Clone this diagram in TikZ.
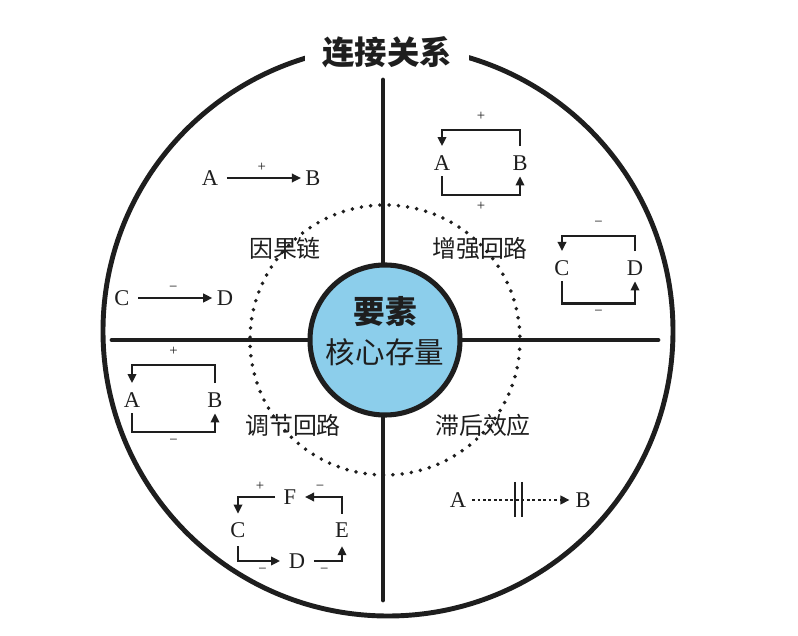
\documentclass[tikz,border=0pt]{standalone}
\usepackage{fontspec}
\setmainfont{Liberation Serif}
\newfontfamily\cjk{Noto Sans CJK SC}
\usetikzlibrary{arrows.meta}
\definecolor{ink}{RGB}{30,30,30}
\definecolor{coreblue}{RGB}{140,206,235}
\tikzset{
  every picture/.style={color=ink},
  ring/.style={draw=ink, line width=3.5pt},
  axis/.style={draw=ink, line width=3.5pt, line cap=round},
  dotring/.style={draw=ink, line width=2.8pt, line cap=round, dash pattern=on 0pt off 6.6pt},
  core/.style={circle, draw=ink, line width=3.6pt, fill=coreblue, minimum size=3.75cm, inner sep=0pt},
  title/.style={font=\cjk\bfseries\fontsize{23}{26}\selectfont, fill=white, inner xsep=12pt, inner ysep=4pt},
  key/.style={font=\cjk\bfseries\fontsize{22.5}{26}\selectfont, inner sep=1pt},
  sub/.style={font=\cjk\fontsize{21}{24}\selectfont, inner sep=1pt},
  quad/.style={font=\cjk\fontsize{17}{20}\selectfont, inner sep=1pt},
  var/.style={font=\fontsize{16}{18}\selectfont, inner sep=1pt},
  sign/.style={font=\fontsize{10.5}{11}\selectfont, inner sep=0pt},
  link/.style={-{Triangle[length=6.5pt,width=6pt]}, line width=1.9pt},
  chain/.style={link, shorten <=5pt, shorten >=2pt},
  upper/.style={link, shorten <=5.5pt, shorten >=5.5pt},
  lower/.style={link, shorten <=3pt, shorten >=3pt},
  loopfour/.style={link, shorten <=5pt, shorten >=5pt},
  lag/.style={link, dotted, line width=1.6pt, shorten <=3pt, shorten >=3pt},
}

\begin{document}
\begin{tikzpicture}[x=0.025cm, y=-0.025cm]
  \useasboundingbox (0,0) rectangle (798,636);
  \coordinate (o) at (385,340);
  \coordinate (rc) at (388,331);
  \draw[ring] (rc) circle (285);
  \node[title] (t) at (387,52) {连接关系};
  \draw[dotring] (o) circle (135);
  \coordinate (n) at (383,80);
  \coordinate (s) at (383,600);
  \coordinate (w) at (112,340);
  \coordinate (e) at (658,340);
  \draw[axis] (n) -- (s);
  \draw[axis] (w) -- (e);
  \node[core] (k) at (o) {};
  \node[key] (ys) at (385,312) {要素};
  \node[sub] (hx) at (385,352) {核心存量};
  \node[quad] (q1) at (285,248) {因果链};
  \node[quad] (q2) at (480,248) {增强回路};
  \node[quad] (q3) at (293,425) {调节回路};
  \node[quad] (q4) at (483,425) {滞后效应};

  \node[var] (a1) at (210,178) {A};
  \node[var] (b1) at (313,178) {B};
  \draw[chain] (a1) -- node[sign, above=4pt] {+} (b1);
  \node[var] (c1) at (122,298) {C};
  \node[var] (d1) at (225,298) {D};
  \draw[chain] (c1) -- node[sign, above=4pt] {−} (d1);

  \node[var] (a2) at (442,163) {A};
  \node[var] (b2) at (520,163) {B};
  \draw[upper] (b2.north) -- ++(0,-24) -| node[sign, pos=0.25, above=6pt] {+} (a2.north);
  \draw[lower] (a2.south) -- ++(0,23) -| node[sign, pos=0.25, below=4pt] {+} (b2.south);

  \node[var] (c2) at (562,268) {C};
  \node[var] (d2) at (635,268) {D};
  \draw[upper] (d2.north) -- ++(0,-23) -| node[sign, pos=0.25, above=6pt] {−} (c2.north);
  \draw[lower] (c2.south) -- ++(0,26) -| node[sign, pos=0.25, below=4pt] {−} (d2.south);

  \node[var] (a3) at (132,400) {A};
  \node[var] (b3) at (215,400) {B};
  \draw[upper] (b3.north) -- ++(0,-26) -| node[sign, pos=0.25, above=6pt] {+} (a3.north);
  \draw[lower] (a3.south) -- ++(0,23) -| node[sign, pos=0.25, below=4pt] {−} (b3.south);

  \node[var] (f4) at (290,497) {F};
  \node[var] (c4) at (238,530) {C};
  \node[var] (e4) at (342,530) {E};
  \node[var] (d4) at (297,561) {D};
  \draw[loopfour] (f4.west) -| node[sign, pos=0.25, above=4pt] {+} (c4.north);
  \draw[loopfour] (e4.north) |- node[sign, pos=0.75, above=4pt] {−} (f4.east);
  \draw[loopfour] (c4.south) |- node[sign, pos=0.75, below=4pt] {−} (d4.west);
  \draw[loopfour] (d4.east) -| node[sign, pos=0.25, below=4pt] {−} (e4.south);

  \node[var] (a5) at (458,500) {A};
  \node[var] (b5) at (583,500) {B};
  \draw[lag] (a5) -- (b5);
  \foreach \x in {515,522} \draw[line width=1.8pt] (\x,482) -- (\x,517);
\end{tikzpicture}
\end{document}
